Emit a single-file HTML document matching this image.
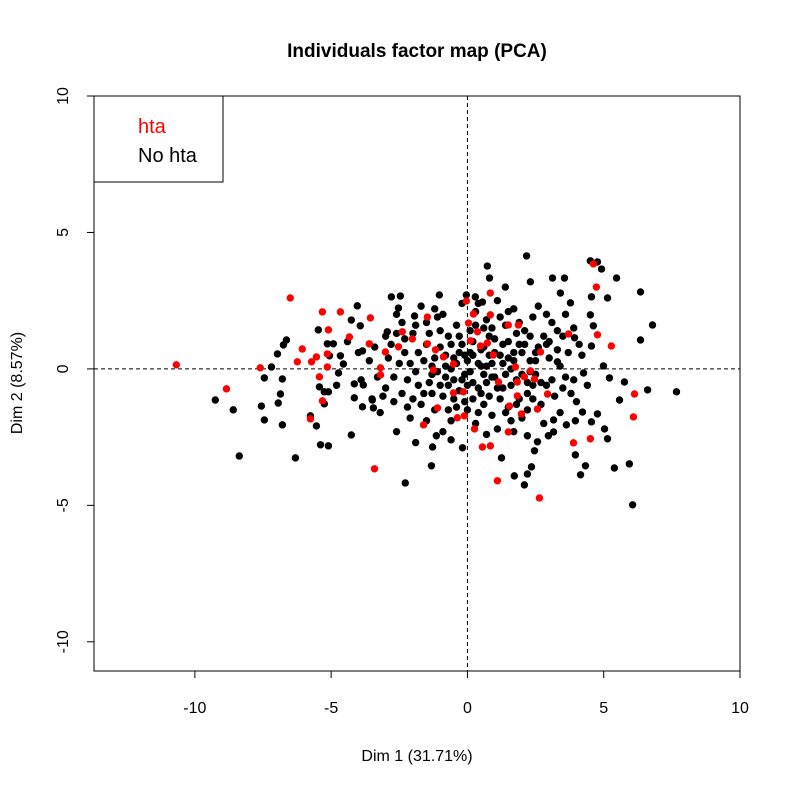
<!DOCTYPE html>
<html><head><meta charset="utf-8"><style>
body{margin:0;background:#fff}
svg{display:block;font-family:"Liberation Sans",Arial,sans-serif}
</style></head><body>
<svg id="chart" width="790" height="790" viewBox="0 0 790 790">
<rect width="790" height="790" fill="#fff"/>
<text x="417" y="57" text-anchor="middle" font-size="19" font-weight="bold">Individuals factor map (PCA)</text>
<text x="417" y="761" text-anchor="middle" font-size="16">Dim 1 (31.71%)</text>
<text transform="translate(22,383) rotate(-90)" text-anchor="middle" font-size="16">Dim 2 (8.57%)</text>
<g id="axes"></g>
<g id="points"></g>
<rect x="94" y="96" width="646" height="575" fill="none" stroke="#000" stroke-width="1"/>
<g>
<rect x="94" y="96" width="129" height="86" fill="#fff" stroke="#000"/>
<text x="138" y="133" font-size="20" fill="#ff0000">hta</text>
<text x="138" y="162" font-size="20" fill="#000">No hta</text>
</g>
</svg>
<script>
const xTicks = [-10, -5, 0, 5, 10];
const yTicks = [-10, -5, 0, 5, 10];
const noHta = [[-9.25,-1.14],[-8.59,-1.5],[-8.37,-3.19],[-7.56,-1.36],[-7.45,-1.87],[-7.45,-0.33],[-7.19,0.07],[-6.97,0.55],[-6.75,0.88],[-6.64,1.06],[-6.79,-0.37],[-6.86,-0.92],[-6.94,-1.25],[-6.79,-2.05],[-6.31,-3.26],[-5.47,1.43],[-5.14,0.92],[-4.92,0.92],[-5.06,0.48],[-4.66,0.48],[-4.55,0.18],[-4.73,-0.15],[-5.43,-0.66],[-5.25,-0.84],[-5.1,-0.84],[-5.25,-1.28],[-5.76,-1.72],[-5.54,-2.09],[-5.39,-2.78],[-5.1,-2.82],[-4.26,-2.42],[-4.15,-1.06],[-3.85,-1.39],[-4.26,1.79],[-4.04,2.31],[-3.93,1.58],[-4.15,-0.55],[-3.82,-0.59],[-3.85,0.66],[-2.79,2.64],[-2.46,2.67],[-2.53,2.23],[-1.94,1.94],[-2.94,1.36],[-2.28,-4.18],[-3.45,-1.43],[-3.49,-1.14],[2.17,4.14],[4.51,3.96],[4.77,3.92],[4.92,3.66],[5.47,3.33],[6.35,2.82],[6.79,1.61],[6.35,1.06],[7.67,-0.84],[6.61,-0.77],[5.76,-0.48],[5.58,-1.14],[5.21,-0.33],[4.99,0.11],[5.94,-3.48],[5.39,-3.63],[6.06,-4.98],[4.33,-3.55],[4.15,-3.88],[3.96,-3.15],[5.14,-2.56],[5.03,-2.2],[4.55,-1.94],[4.77,-1.65],[4.22,-1.58],[3.96,-1.9],[3.63,-2.05],[3.16,-1.87],[3.16,-2.31],[2.97,-2.45],[2.57,-2.67],[2.46,-3.0],[2.2,-2.45],[2.35,-3.59],[2.2,-3.85],[2.09,-4.25],[1.72,-3.92],[1.25,-3.26],[-0.18,-2.89],[-1.32,-3.55],[-1.28,-2.86],[-1.14,-2.45],[0.73,3.77],[0.81,3.33],[1.39,3.0],[2.31,3.19],[3.12,3.33],[3.56,3.33],[3.41,2.78],[3.78,2.42],[4.55,2.64],[5.14,2.6],[4.51,1.98],[4.62,1.58],[4.55,0.84],[3.93,1.14],[3.3,0.26],[4.26,-0.15],[-1.03,2.71],[0.29,2.64],[0.55,2.45],[-0.04,2.71],
[-2.8,0.9],[-2.5,0.2],[-2.2,-0.4],[-2.0,1.3],[-1.8,0.6],[-1.6,-0.9],[-1.5,1.7],[-1.3,0.1],[-1.2,-1.5],[-1.0,0.8],[-0.9,2.0],[-0.8,-0.3],[-0.7,1.2],[-0.6,-1.9],[-0.5,0.4],[-0.4,1.6],[-0.3,-0.8],[-0.2,0.9],[-0.1,-1.2],[0.0,0.3],[0.1,1.4],[0.2,-0.5],[0.3,2.1],[0.4,-1.6],[0.5,0.7],[0.6,-0.2],[0.7,1.8],[0.8,-1.0],[0.9,0.2],[1.0,1.1],[1.1,-2.2],[1.2,0.5],[1.3,-0.7],[1.4,1.6],[1.5,-1.4],[1.6,0.0],[1.7,2.2],[1.8,-0.4],[1.9,0.9],[2.0,-1.8],[2.1,1.4],[2.2,-0.9],[2.3,0.3],[2.4,1.9],[2.5,-0.2],[2.6,0.8],[2.7,-1.3],[2.8,1.2],[2.9,-0.6],[3.0,0.4],[3.1,1.7],[3.2,-1.0],[3.3,0.7],[3.4,-1.6],[3.5,1.2],[3.6,-0.3],[3.7,0.6],[3.8,-0.9],[3.9,1.5],[4.0,-1.2],
[-3.0,-0.7],[-2.7,-1.2],[-2.4,1.7],[-2.1,-1.8],[-1.9,-0.1],[-1.7,2.3],[-1.4,-0.5],[-1.1,1.9],[-0.9,-2.3],[-0.6,0.0],[-0.4,-1.4],[-0.2,2.4],[0.0,-0.6],[0.2,1.0],[0.3,-2.0],[0.5,-0.9],[0.6,1.5],[0.8,0.5],[1.0,-0.3],[1.1,2.5],[1.3,0.9],[1.5,0.4],[1.6,-1.9],[1.8,1.3],[2.0,0.6],[2.2,-1.5],[2.4,-0.6],[2.6,2.3],[2.8,-2.0],[3.0,1.0],[-3.3,-0.3],[-3.6,0.3],[-3.2,-1.6],[-2.6,-2.3],[-1.9,-2.7],[-1.2,0.4],[-0.5,-0.4],[0.1,0.6],[0.7,0.1],[1.2,-1.1],[1.9,-1.1],[2.3,-0.1],[0.4,0.2],[-0.1,-0.2],[-0.8,0.5],[-1.5,0.9],[-2.3,0.6],[-3.0,1.2],[-2.0,-1.1],[-1.0,-0.6],[0.6,-1.3],[1.4,-0.2],[2.5,0.3],[3.4,0.1],[4.2,0.5],[4.4,-0.6],[-0.3,0.6],[0.9,1.5],[1.7,0.6],[-1.3,-0.2],[-2.6,1.3],[-3.5,-1.1],[-4.0,0.6],[-3.9,-0.4],[-4.4,1.0],[-4.8,-0.6],
[-2.9,0.4],[-2.7,-0.3],[-2.4,-0.9],[-2.3,1.1],[-2.1,0.2],[-1.9,1.6],[-1.8,-0.6],[-1.7,-1.3],[-1.6,0.3],[-1.4,1.3],[-1.3,-0.9],[-1.1,-0.1],[-1.0,1.4],[-0.9,-1.0],[-0.8,0.1],[-0.7,-0.6],[-0.6,0.9],[-0.5,-1.1],[-0.4,0.2],[-0.3,1.2],[-0.2,-0.4],[-0.1,0.5],[0.0,-1.5],[0.1,-0.1],[0.2,0.5],[0.3,1.6],[0.4,-0.7],[0.5,0.1],[0.6,0.8],[0.7,-0.5],[0.8,1.2],[0.9,-0.3],[1.0,0.6],[1.1,-0.7],[1.2,1.9],[1.3,0.2],[1.4,-1.6],[1.5,1.0],[1.6,-0.6],[1.7,0.3],[1.8,-1.3],[1.9,1.7],[2.0,-0.2],[2.1,0.9],[2.2,-0.5],[2.3,1.2],[2.4,-1.1],[2.5,0.6],[2.7,-0.5],[2.9,0.9],[3.1,-0.4],[3.3,1.4],[3.5,-0.7],[-2.2,-1.4],[-1.5,-1.9],[-0.7,-1.5],[0.2,-1.1],[0.9,-1.7],[1.7,-2.3],[-2.6,2.0],[-1.2,2.2],[0.4,2.4],[1.5,2.1],[2.9,2.0],[-3.4,0.8],[-3.1,-1.0],[3.6,2.0],[3.9,-0.4],[4.1,0.9],[-0.6,-2.6],[0.7,-2.4]];
const hta = [[-10.68,0.15],[-8.84,-0.73],[-7.6,0.04],[-6.5,2.6],[-6.06,0.73],[-6.24,0.26],[-5.72,0.26],[-5.54,0.44],[-5.14,0.55],[-5.14,0.07],[-5.43,-0.29],[-5.32,2.09],[-4.66,2.09],[-5.1,1.43],[-4.33,1.17],[-3.56,1.87],[-3.6,0.92],[-5.32,-1.17],[-5.76,-1.83],[-3.41,-3.66],[-3.19,0.04],[-3.19,-0.22],[-3.01,0.62],[-2.53,0.81],[-2.39,1.36],[-2.02,1.1],[4.62,3.85],[4.73,3.0],[5.28,0.84],[4.77,1.25],[3.71,1.28],[6.13,-0.92],[6.09,-1.76],[4.51,-2.56],[3.89,-2.71],[2.94,-0.92],[2.64,-4.73],[1.1,-4.1],[0.55,-2.86],[0.84,-2.82],[0.26,-2.2],[1.5,-2.31],[1.98,-1.65],[2.57,-1.47],[1.54,-1.36],[1.83,-0.99],[1.83,-0.48],[2.09,-0.29],[2.46,-0.37],[2.31,-0.07],[2.68,0.62],[1.76,0.07],[1.14,-0.48],[0.95,0.51],[1.5,1.61],[1.87,1.61],[0.84,2.78],[-0.04,2.49],[0.22,2.01],[0.84,1.98],[0.04,1.68],[0.37,1.36],[0.11,1.03],[0.73,0.95],[0.48,0.84],[-0.51,0.18],[-0.88,0.44],[-1.17,0.7],[-1.47,1.9],[-1.47,0.92],[-1.25,-0.04],[-0.51,-0.88],[-0.15,-0.84],[-0.37,-1.79],[-0.11,-1.72],[-1.61,-2.05],[-1.1,-1.43]];

const NS = "http://www.w3.org/2000/svg";
const X0 = 94, X1 = 740, Y0 = 96, Y1 = 671;
const xmin = -13.7, xmax = 10, ymin = -11.07, ymax = 10;
function sx(v){ return X0 + (v - xmin) / (xmax - xmin) * (X1 - X0); }
function sy(v){ return Y1 - (v - ymin) / (ymax - ymin) * (Y1 - Y0); }
function mk(tag, attrs, parent){ const e = document.createElementNS(NS, tag); for (const k in attrs) e.setAttribute(k, attrs[k]); parent.appendChild(e); return e; }

const axes = document.getElementById('axes');
const vl = mk('line', {x1:sx(0), x2:sx(0), y1:Y0, y2:Y1, stroke:'#000', 'stroke-dasharray':'4,3'}, axes);


const hl = mk('line', {x1:X0, x2:X1, y1:sy(0), y2:sy(0), stroke:'#000', 'stroke-dasharray':'4,3'}, axes);


xTicks.forEach(t => {
  const l = mk('line', {x1:sx(t), x2:sx(t), y1:Y1, y2:Y1+7, stroke:'#000'}, axes);
  
  
  const tx = mk('text', {x:sx(t), y:713, 'text-anchor':'middle', 'font-size':16}, axes);
  tx.textContent = t;
  
  
});
yTicks.forEach(t => {
  const l = mk('line', {x1:X0-7, x2:X0, y1:sy(t), y2:sy(t), stroke:'#000'}, axes);
  
  
  const tx = mk('text', {transform:'translate(68,'+sy(t)+') rotate(-90)', 'text-anchor':'middle', 'font-size':16}, axes);
  tx.textContent = t;
  
  
});
const pts = document.getElementById('points');
noHta.forEach(p => {
  const c = mk('circle', {cx:sx(p[0]), cy:sy(p[1]), r:3.7, fill:'#000'}, pts);
  
  
});
hta.forEach(p => {
  const c = mk('circle', {cx:sx(p[0]), cy:sy(p[1]), r:3.7, fill:'#ff0000'}, pts);
  
  
});
</script>
</body></html>
